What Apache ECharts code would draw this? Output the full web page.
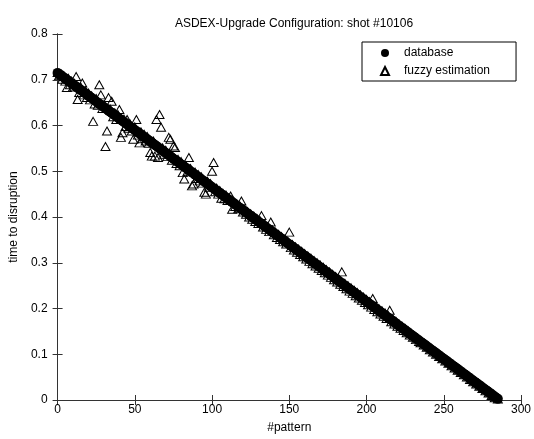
<!DOCTYPE html>
<html>
<head>
<meta charset="utf-8">
<script src="https://cdn.jsdelivr.net/npm/echarts@6/dist/echarts.min.js"></script>
<style>
  html, body { margin: 0; padding: 0; background: #fff; }
  #main { width: 534px; height: 439px; }
</style>
</head>
<body>
<div id="main"></div>
<script>
// time to disruption per pattern (index = #pattern)
var database = [
  0.715, 0.7125, 0.71, 0.7075, 0.705, 0.7025, 0.7, 0.6975, 0.695, 0.6925,
  0.69, 0.6875, 0.685, 0.6825, 0.68, 0.6775, 0.675, 0.6725, 0.67, 0.6675,
  0.665, 0.6625, 0.66, 0.6575, 0.655, 0.6525, 0.65, 0.6475, 0.645, 0.6425,
  0.64, 0.6375, 0.635, 0.6325, 0.63, 0.6275, 0.625, 0.6225, 0.62, 0.6175,
  0.615, 0.6125, 0.61, 0.6075, 0.605, 0.6025, 0.6, 0.5975, 0.595, 0.5925,
  0.59, 0.5875, 0.585, 0.5825, 0.58, 0.5775, 0.575, 0.5725, 0.57, 0.5675,
  0.565, 0.5625, 0.56, 0.5575, 0.555, 0.5525, 0.55, 0.5475, 0.545, 0.5425,
  0.54, 0.5375, 0.535, 0.5325, 0.53, 0.5275, 0.525, 0.5225, 0.52, 0.5175,
  0.515, 0.5125, 0.51, 0.5075, 0.505, 0.5025, 0.5, 0.4975, 0.495, 0.4925,
  0.49, 0.4875, 0.485, 0.4825, 0.48, 0.4775, 0.475, 0.4725, 0.47, 0.4675,
  0.465, 0.4625, 0.46, 0.4575, 0.455, 0.4525, 0.45, 0.4475, 0.445, 0.4425,
  0.44, 0.4375, 0.435, 0.4325, 0.43, 0.4275, 0.425, 0.4225, 0.42, 0.4175,
  0.415, 0.4125, 0.41, 0.4075, 0.405, 0.4025, 0.4, 0.3975, 0.395, 0.3925,
  0.39, 0.3875, 0.385, 0.3825, 0.38, 0.3775, 0.375, 0.3725, 0.37, 0.3675,
  0.365, 0.3625, 0.36, 0.3575, 0.355, 0.3525, 0.35, 0.3475, 0.345, 0.3425,
  0.34, 0.3375, 0.335, 0.3325, 0.33, 0.3275, 0.325, 0.3225, 0.32, 0.3175,
  0.315, 0.3125, 0.31, 0.3075, 0.305, 0.3025, 0.3, 0.2975, 0.295, 0.2925,
  0.29, 0.2875, 0.285, 0.2825, 0.28, 0.2775, 0.275, 0.2725, 0.27, 0.2675,
  0.265, 0.2625, 0.26, 0.2575, 0.255, 0.2525, 0.25, 0.2475, 0.245, 0.2425,
  0.24, 0.2375, 0.235, 0.2325, 0.23, 0.2275, 0.225, 0.2225, 0.22, 0.2175,
  0.215, 0.2125, 0.21, 0.2075, 0.205, 0.2025, 0.2, 0.1975, 0.195, 0.1925,
  0.19, 0.1875, 0.185, 0.1825, 0.18, 0.1775, 0.175, 0.1725, 0.17, 0.1675,
  0.165, 0.1625, 0.16, 0.1575, 0.155, 0.1525, 0.15, 0.1475, 0.145, 0.1425,
  0.14, 0.1375, 0.135, 0.1325, 0.13, 0.1275, 0.125, 0.1225, 0.12, 0.1175,
  0.115, 0.1125, 0.11, 0.1075, 0.105, 0.1025, 0.1, 0.0975, 0.095, 0.0925,
  0.09, 0.0875, 0.085, 0.0825, 0.08, 0.0775, 0.075, 0.0725, 0.07, 0.0675,
  0.065, 0.0625, 0.06, 0.0575, 0.055, 0.0525, 0.05, 0.0475, 0.045, 0.0425,
  0.04, 0.0375, 0.035, 0.0325, 0.03, 0.0275, 0.025, 0.0225, 0.02, 0.0175,
  0.015, 0.0125, 0.01, 0.0075, 0.005, 0.0025
];

// fuzzy estimation per pattern (index = #pattern)
var fuzzyEstimation = [
  0.716, 0.709, 0.712, 0.701, 0.709, 0.697, 0.683, 0.703, 0.689, 0.697,
  0.684, 0.692, 0.707, 0.657, 0.672, 0.684, 0.693, 0.667, 0.676, 0.661,
  0.671, 0.656, 0.665, 0.609, 0.647, 0.659, 0.644, 0.689, 0.667, 0.637,
  0.645, 0.554, 0.588, 0.661, 0.636, 0.653, 0.619, 0.628, 0.613, 0.624,
  0.635, 0.574, 0.584, 0.614, 0.598, 0.613, 0.594, 0.603, 0.588, 0.570,
  0.597, 0.613, 0.579, 0.562, 0.586, 0.571, 0.581, 0.566, 0.576, 0.561,
  0.541, 0.533, 0.566, 0.533, 0.613, 0.530, 0.624, 0.596, 0.551, 0.537,
  0.546, 0.532, 0.574, 0.570, 0.524, 0.555, 0.552, 0.517, 0.526, 0.512,
  0.521, 0.497, 0.483, 0.513, 0.499, 0.530, 0.506, 0.468, 0.472, 0.498,
  0.484, 0.493, 0.479, 0.488, 0.474, 0.454, 0.450, 0.478, 0.465, 0.473,
  0.500, 0.519, 0.455, 0.463, 0.450, 0.458, 0.441, 0.452, 0.440, 0.448,
  0.436, 0.442, 0.446, 0.417, 0.434, 0.423, 0.429, 0.418, 0.424, 0.435,
  0.411, 0.417, 0.406, 0.412, 0.400, 0.407, 0.395, 0.402, 0.390, 0.397,
  0.386, 0.392, 0.403, 0.378, 0.385, 0.373, 0.379, 0.368, 0.389, 0.372,
  0.361, 0.367, 0.355, 0.362, 0.351, 0.357, 0.346, 0.352, 0.341, 0.347,
  0.367, 0.333, 0.340, 0.328, 0.335, 0.323, 0.330, 0.318, 0.325, 0.313,
  0.320, 0.308, 0.315, 0.303, 0.310, 0.298, 0.305, 0.293, 0.300, 0.288,
  0.295, 0.283, 0.290, 0.278, 0.285, 0.273, 0.280, 0.268, 0.275, 0.263,
  0.270, 0.258, 0.265, 0.253, 0.280, 0.248, 0.255, 0.243, 0.250, 0.238,
  0.245, 0.233, 0.240, 0.228, 0.235, 0.223, 0.230, 0.218, 0.225, 0.213,
  0.220, 0.208, 0.215, 0.203, 0.222, 0.198, 0.205, 0.193, 0.200, 0.188,
  0.195, 0.183, 0.190, 0.178, 0.185, 0.196, 0.171, 0.177, 0.166, 0.172,
  0.161, 0.166, 0.157, 0.161, 0.152, 0.156, 0.147, 0.151, 0.142, 0.146,
  0.137, 0.140, 0.132, 0.135, 0.128, 0.125, 0.127, 0.120, 0.122, 0.115,
  0.117, 0.110, 0.112, 0.105, 0.107, 0.100, 0.102, 0.095, 0.097, 0.090,
  0.092, 0.085, 0.087, 0.080, 0.082, 0.075, 0.077, 0.070, 0.072, 0.065,
  0.067, 0.060, 0.062, 0.055, 0.057, 0.050, 0.052, 0.045, 0.047, 0.040,
  0.042, 0.035, 0.037, 0.030, 0.032, 0.025, 0.027, 0.020, 0.022, 0.015,
  0.017, 0.010, 0.012, 0.005, 0.007, 0.002
];

var chart = echarts.init(document.getElementById('main'));

var axisColor = '#333';
var font = 'Arial, "Liberation Sans", Helvetica, sans-serif';

function withPattern(values) {
  return values.map(function (v, i) { return [i, v]; });
}

var option = {
  backgroundColor: '#ffffff',
  animation: false,
  title: {
    text: 'ASDEX-Upgrade Configuration: shot #10106',
    left: 289,
    top: 13,
    textAlign: 'center',
    textStyle: { fontSize: 12, fontWeight: 'normal', color: '#000', fontFamily: font }
  },
  legend: {
    orient: 'vertical',
    left: 362,
    top: 42,
    itemWidth: 8,
    itemHeight: 8,
    itemGap: 4,
    padding: [4, 26, 3, 18],
    borderColor: '#000',
    borderWidth: 1,
    backgroundColor: '#fff',
    textStyle: { fontSize: 12, color: '#000', fontFamily: font, lineHeight: 14, padding: [0, 0, 0, 10] },
    data: [
      { name: 'database', icon: 'circle' },
      { name: 'fuzzy estimation', icon: 'triangle' }
    ]
  },
  grid: { left: 56, right: 11, top: 34, bottom: 37, containLabel: false },
  xAxis: [{
    type: 'value', min: 0, max: 300, interval: 50, position: 'bottom',
    name: '#pattern', nameLocation: 'middle', nameGap: 22,
    nameTextStyle: { fontSize: 12, color: '#000', fontFamily: font },
    axisLine: { lineStyle: { color: axisColor } },
    axisTick: { inside: true, length: 5, lineStyle: { color: axisColor } },
    axisLabel: { fontSize: 12, color: '#000', margin: 4, fontFamily: font },
    splitLine: { show: false }
  }, {
    type: 'value', min: 0, max: 300, interval: 50, position: 'top',
    axisLine: { lineStyle: { color: axisColor } },
    axisTick: { inside: true, length: 5, lineStyle: { color: axisColor } },
    axisLabel: { show: false },
    splitLine: { show: false }
  }],
  yAxis: [{
    type: 'value', min: 0, max: 0.8, interval: 0.1, position: 'left',
    name: 'time to disruption', nameLocation: 'middle', nameGap: 37,
    nameTextStyle: { fontSize: 12, color: '#000', fontFamily: font },
    axisLine: { show: true, lineStyle: { color: axisColor } },
    axisTick: { show: true, inside: true, length: 5, lineStyle: { color: axisColor } },
    axisLabel: { fontSize: 12, color: '#000', margin: 10, fontFamily: font },
    splitLine: { show: false }
  }, {
    type: 'value', min: 0, max: 0.8, interval: 0.1, position: 'right',
    axisLine: { show: true, lineStyle: { color: axisColor } },
    axisTick: { show: true, inside: true, length: 5, lineStyle: { color: axisColor } },
    axisLabel: { show: false },
    splitLine: { show: false }
  }],
  series: [{
    name: 'database',
    type: 'scatter',
    symbol: 'circle',
    symbolSize: 10,
    itemStyle: { color: '#000', opacity: 1 },
    data: withPattern(database)
  }, {
    name: 'fuzzy estimation',
    type: 'scatter',
    symbol: 'triangle',
    symbolSize: [9, 8],
    itemStyle: { color: 'transparent', borderColor: '#000', borderWidth: 1, opacity: 1 },
    data: withPattern(fuzzyEstimation)
  }]
};

chart.setOption(option);
</script>
</body>
</html>
